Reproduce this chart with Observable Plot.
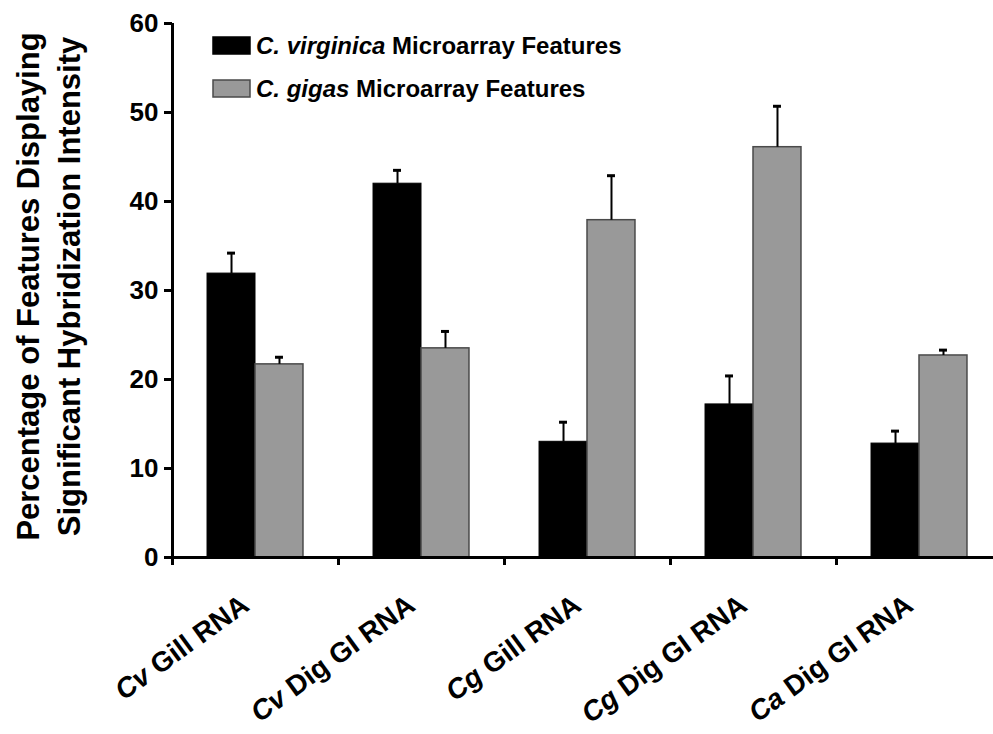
<!DOCTYPE html>
<html>
<head>
<meta charset="utf-8">
<script src="https://cdn.jsdelivr.net/npm/d3@7"></script>
<script src="https://cdn.jsdelivr.net/npm/@observablehq/plot@0.6"></script>
<style>
  html, body { margin: 0; padding: 0; background: #fff; overflow: hidden; }
  #chart { width: 993px; height: 734px; }
</style>
</head>
<body>
<div id="chart"></div>
<script>
// ---- Data ----
const categories = ["Cv Gill RNA", "Cv Dig GI RNA", "Cg Gill RNA", "Cg Dig GI RNA", "Ca Dig GI RNA"];
const virginica    = [31.9, 42.0, 13.0, 17.2, 12.8];
const virginicaErr = [2.3, 1.5, 2.2, 3.2, 1.4];
const gigas        = [21.7, 23.5, 37.9, 46.1, 22.7];
const gigasErr     = [0.8, 1.9, 5.0, 4.6, 0.6];
const seriesItalic = ["C. virginica", "C. gigas"];
const seriesRest   = [" Microarray Features", " Microarray Features"];
const yTicks = [0, 10, 20, 30, 40, 50, 60];
const yTitleLines = ["Percentage of Features Displaying", "Significant Hybridization Intensity"];

// ---- Build rows ----
const rows = [];
categories.forEach((c, i) => {
  rows.push({cat: c, i, s: 0, value: virginica[i], err: virginicaErr[i]});
  rows.push({cat: c, i, s: 1, value: gigas[i], err: gigasErr[i]});
});
const barStart = [0.211, 0.5];
const barW = 0.289;
const center = d => d.i + barStart[d.s] + barW / 2;
const capHalf = 0.024;
const font = "'Liberation Sans', Arial, Helvetica, sans-serif";

const plot = Plot.plot({
  width: 993,
  height: 734,
  marginLeft: 172,
  marginRight: 0,
  marginTop: 23,
  marginBottom: 177,
  style: {fontFamily: font, color: "#000", background: "#fff", overflow: "visible"},
  x: {type: "linear", domain: [0, 5], range: [172, 1002]},
  y: {domain: [0, 60]},
  marks: [
    Plot.rectY(rows.filter(d => d.s === 0), {
      x1: d => d.i + barStart[d.s], x2: d => d.i + barStart[d.s] + barW,
      y1: 0, y2: "value", fill: "#000", stroke: "#000", strokeWidth: 1
    }),
    Plot.rectY(rows.filter(d => d.s === 1), {
      x1: d => d.i + barStart[d.s], x2: d => d.i + barStart[d.s] + barW,
      y1: 0, y2: "value", fill: "#999999", stroke: "#4a4a4a", strokeWidth: 1.5
    }),
    Plot.ruleX(rows, {x: center, y1: "value", y2: d => d.value + d.err, stroke: "#000", strokeWidth: 2}),
    Plot.ruleY(rows, {y: d => d.value + d.err, x1: d => center(d) - capHalf, x2: d => center(d) + capHalf, stroke: "#000", strokeWidth: 3}),
    Plot.ruleX([0], {y1: 0, y2: 60, stroke: "#000", strokeWidth: 3}),
    Plot.ruleY([0], {x1: 0, x2: 5, stroke: "#000", strokeWidth: 3}),
    Plot.axisY({ticks: yTicks, tickSize: 8, tickPadding: 6, fontSize: 26, fontWeight: "bold", label: null, strokeWidth: 3}),
    Plot.axisX({ticks: [0, 1, 2, 3, 4, 5], tickFormat: () => "", tickSize: 8, strokeWidth: 3, label: null}),
    Plot.axisX({
      ticks: categories.map((c, i) => i + 0.5),
      tickFormat: d => categories[Math.round(d - 0.5)],
      tickSize: 0, tickRotate: -36, tickPadding: 44, dx: -10,
      fontSize: 28, fontWeight: "bold", label: null
    }),
    Plot.text([yTitleLines.join("\n")], {
      text: d => d, frameAnchor: "left", textAnchor: "middle", lineAnchor: "middle",
      rotate: -90, dx: -126, dy: -4, fontSize: 31, fontWeight: "bold", lineHeight: 1.3, fill: "#000"
    })
  ]
});
document.getElementById("chart").appendChild(plot);

// ---- Italicize species abbreviations in x tick labels ----
const svg = d3.select(plot);
svg.selectAll("text").each(function() {
  const t = this.textContent;
  if (categories.includes(t)) {
    const sp = t.indexOf(" ");
    const el = d3.select(this);
    el.text(null);
    el.append("tspan").attr("font-style", "italic").text(t.slice(0, sp));
    el.append("tspan").text(t.slice(sp));
  }
});

// ---- Legend ----
const legend = svg.append("g").attr("font-family", font).attr("font-size", 24)
  .attr("font-weight", "bold").attr("text-anchor", "start");
const legFill = ["#000", "#999999"];
const legStroke = ["#000", "#4a4a4a"];
seriesItalic.forEach((name, k) => {
  const y0 = 37 + k * 43;
  legend.append("rect").attr("x", 213).attr("y", y0).attr("width", 37).attr("height", 17)
    .attr("fill", legFill[k]).attr("stroke", legStroke[k]).attr("stroke-width", 1.5);
  const txt = legend.append("text").attr("x", 256).attr("y", y0 + 17).attr("fill", "#000");
  txt.append("tspan").attr("font-style", "italic").text(name);
  txt.append("tspan").text(seriesRest[k]);
});
</script>
</body>
</html>
